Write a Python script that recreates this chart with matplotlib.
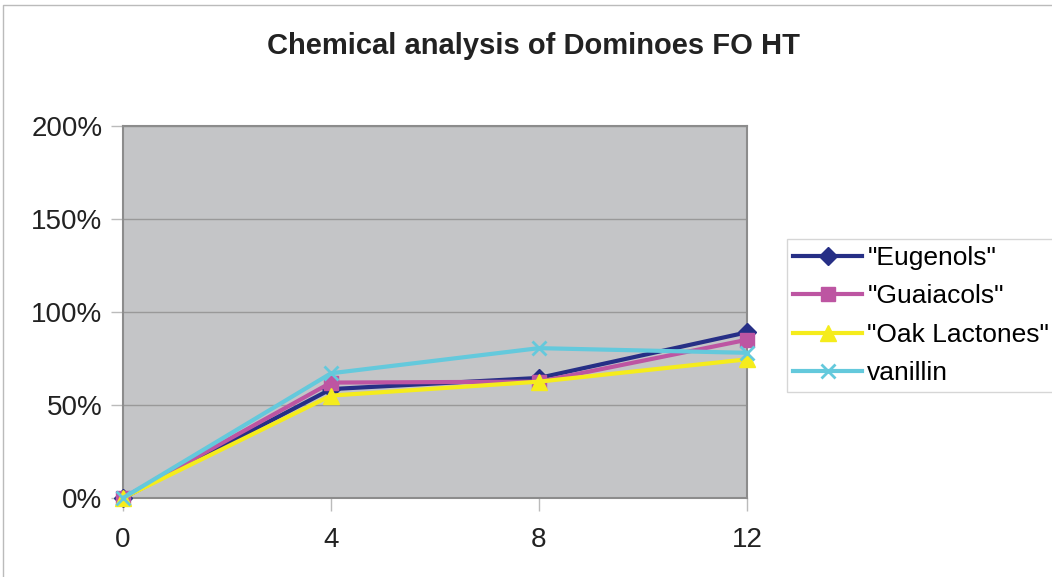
import numpy as np
import matplotlib
matplotlib.use("Agg")
import matplotlib.pyplot as plt
from matplotlib.ticker import FuncFormatter

plt.rcParams['font.family'] = ['Liberation Sans', 'DejaVu Sans']

x = [0, 4, 8, 12]
eugenols = [0, 58.5, 64.5, 89]
guaiacols = [0, 62, 62.5, 85]
oak_lactones = [0, 55, 62.5, 74.5]
vanillin = [0, 67, 80.5, 78]
labels = ['"Eugenols"', '"Guaiacols"', '"Oak Lactones"', 'vanillin']

fig = plt.figure(figsize=(10.52, 5.77), dpi=100)
ax1 = fig.add_axes([0.117, 0.137, 0.593, 0.645])
ax1.set_facecolor('#c4c5c7')

ax1.plot(x, eugenols, color='#262f86', lw=3, marker='D', ms=9, label=labels[0], zorder=3, clip_on=False)
ax1.plot(x, guaiacols, color='#bd55a2', lw=3, marker='s', ms=10, label=labels[1], zorder=3, clip_on=False)
ax1.plot(x, oak_lactones, color='#f5ec1c', lw=3, marker='^', ms=11, label=labels[2], zorder=3, clip_on=False)
ax1.plot(x, vanillin, color='#64c9dc', lw=3, marker='x', ms=10, mew=2, label=labels[3], zorder=4, clip_on=False)

ax1.set_xlim(0, 12)
ax1.set_ylim(0, 200)
ax1.set_xticks(x)
ax1.set_yticks([0, 50, 100, 150, 200])
ax1.yaxis.set_major_formatter(FuncFormatter(lambda v, p: '%d%%' % v))
ax1.grid(axis='y', color='#999999', lw=1)
ax1.set_axisbelow(True)
for s in ax1.spines.values():
    s.set_color('#8c8c8c')
    s.set_linewidth(1.5)
ax1.tick_params(labelsize=20, length=9, width=1)
ax1.tick_params(axis='x', colors='#bbbbbb', labelcolor='#222222', pad=12)
ax1.tick_params(axis='y', colors='#bbbbbb', labelcolor='#222222', pad=6)

fig.suptitle('Chemical analysis of Dominoes FO HT', x=0.507, y=0.945,
             fontsize=21, fontweight='bold', color='#222222')

leg = ax1.legend(loc='center left', bbox_to_anchor=(1.064, 0.49), fontsize=19,
                 frameon=True, fancybox=False, edgecolor='#cccccc',
                 handlelength=2.6, borderpad=0.25, labelspacing=0.55,
                 handletextpad=0.2, borderaxespad=0)
leg.get_frame().set_linewidth(1)

fig.lines.append(plt.Line2D([0.003, 0.003, 1.0], [0.0, 0.991, 0.991], transform=fig.transFigure,
                            color='#bbbbbb', lw=1))

fig.savefig('out.png', dpi=100)
